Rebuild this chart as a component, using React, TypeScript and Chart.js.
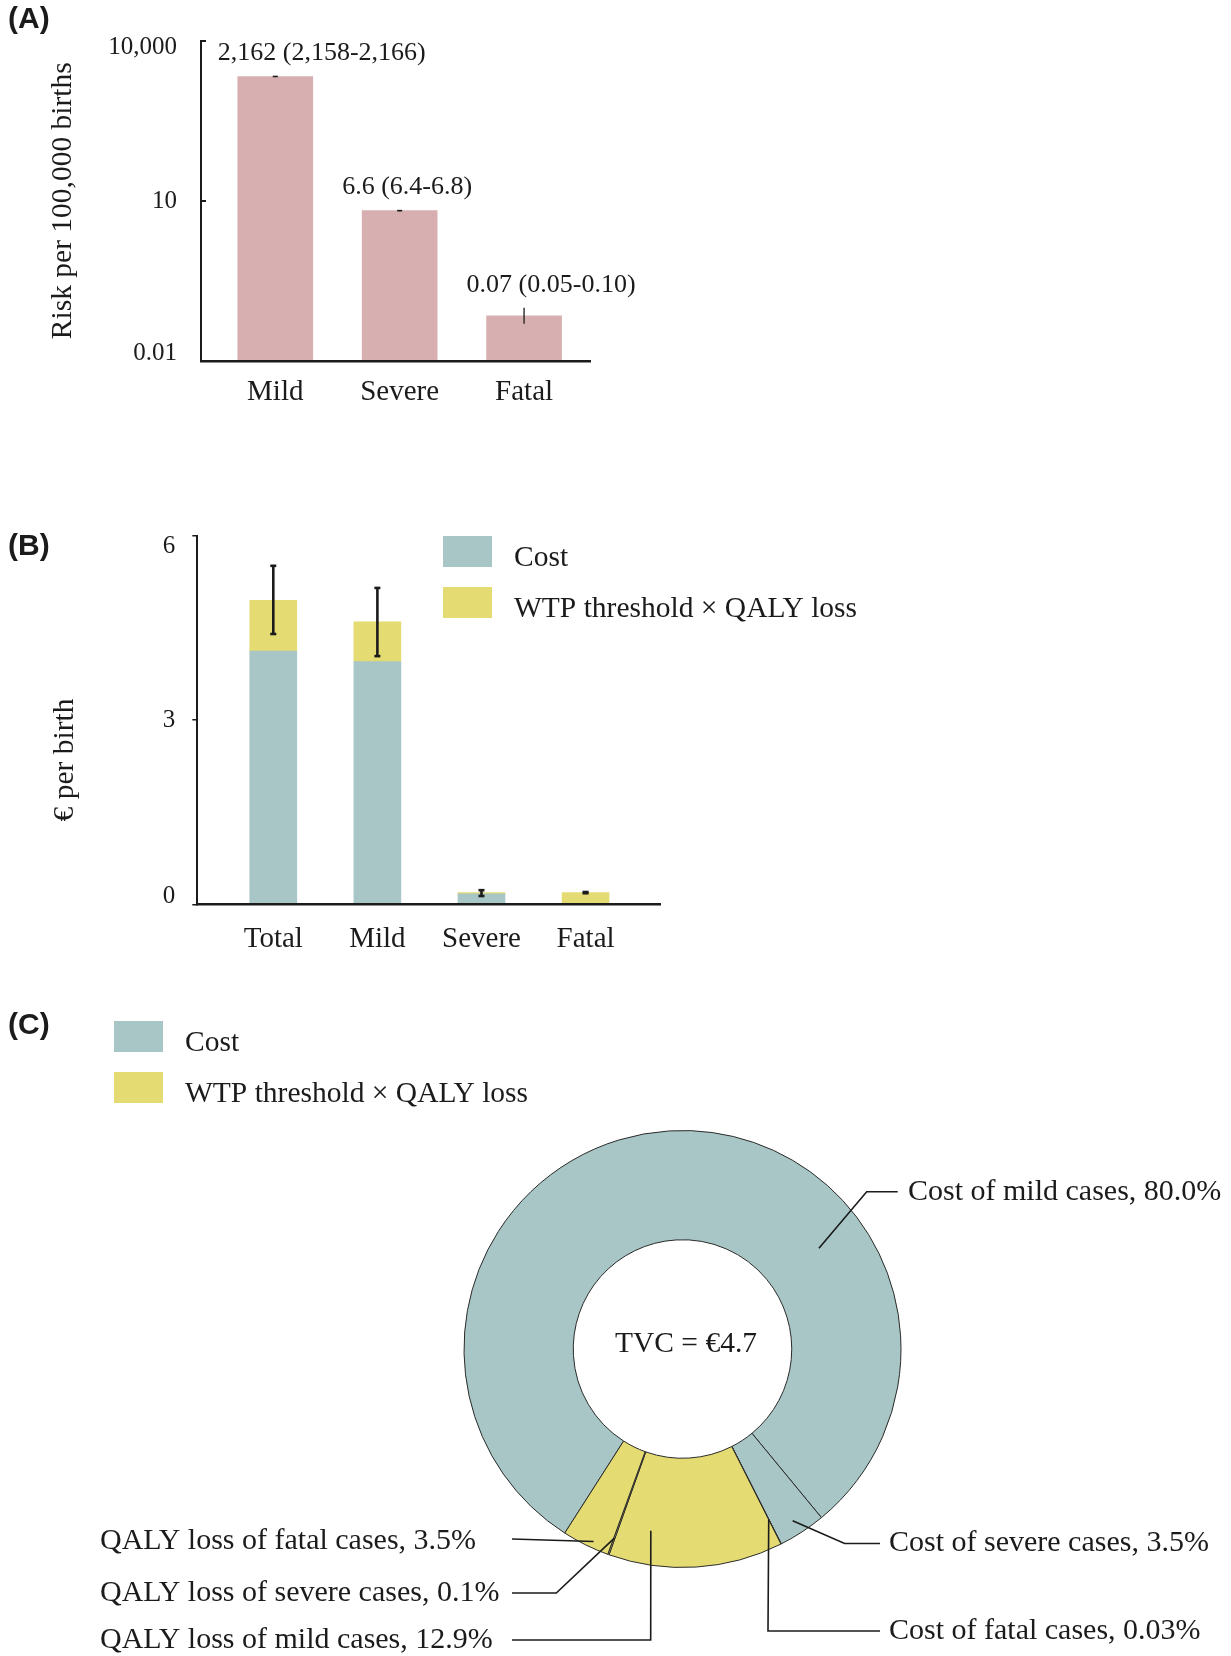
import React, { useEffect, useRef } from "react";
import { Chart, registerables } from "chart.js";

Chart.register(...registerables);

const SERIF = "'Liberation Serif', 'Times New Roman', Times, serif";
const SANS = "'Liberation Sans', Arial, Helvetica, sans-serif";
const INK = "#1b1b1b";
const TEAL = "#A7C6C5";
const YELLOW = "#E4DB73";
const PINK = "#D8AFB0";

// ---------- Panel A data ----------
const riskCategories = ["Mild", "Severe", "Fatal"];
const riskValues = [2162, 6.6, 0.07];
const riskLow = [2158, 6.4, 0.05];
const riskHigh = [2166, 6.8, 0.1];
const riskLabels = ["2,162 (2,158-2,166)", "6.6 (6.4-6.8)", "0.07 (0.05-0.10)"];
const riskTickValues = [0.01, 10, 10000];
const riskTickLabels = ["0.01", "10", "10,000"];
const riskAxisTitle = "Risk per 100,000 births";

// ---------- Panel B data ----------
const costCategories = ["Total", "Mild", "Severe", "Fatal"];
const costValues = [4.12, 3.95, 0.17, 0.005];
const wtpValues = [0.83, 0.65, 0.02, 0.185];
const totalLow = [4.4, 4.04, 0.135, 0.18];
const totalHigh = [5.51, 5.15, 0.23, 0.2];
const costTickValues = [0, 3, 6];
const costAxisTitle = "€ per birth";
const legendLabels = ["Cost", "WTP threshold × QALY loss"];

// ---------- Panel C data ----------
const sliceLabels = [
  "Cost of mild cases",
  "Cost of severe cases",
  "Cost of fatal cases",
  "QALY loss of mild cases",
  "QALY loss of severe cases",
  "QALY loss of fatal cases",
];
const sliceValues = [80.0, 3.5, 0.03, 12.9, 0.1, 3.5];
const sliceValueText = ["80.0", "3.5", "0.03", "12.9", "0.1", "3.5"];
const sliceGroup = [0, 0, 0, 1, 1, 1];
const tvcLabel = "TVC = €4.7";

// ---------- layout ----------
const TOP_B = 500;
const TOP_C = 980;
const GROUP_COLORS = [TEAL, YELLOW];

// leader layout for panel C (page coordinates)
const leaderLayout = [
  { frac: 0.698, r: 169.6, path: [[866.7, 1191.7], [897.7, 1191.7]], text: [908, 1192] },
  { frac: 0.54, r: 204, path: [[844.6, 1543.5], [880, 1543.5]], text: [889, 1543.5] },
  { frac: 0.5, r: 191, path: [[768, 1631], [880, 1631]], text: [889, 1631] },
  { frac: 0.79, r: 184.5, path: [[650.7, 1640], [512, 1640]], text: [100, 1640] },
  { frac: 0.5, r: 201, path: [[556.3, 1593], [512, 1593]], text: [100, 1593] },
  { frac: 0.38, r: 212, path: [[512, 1539]], text: [100, 1541] },
];

function panelLabel(ctx: CanvasRenderingContext2D, text: string, x: number, y: number) {
  ctx.save();
  ctx.font = `bold 30px ${SANS}`;
  ctx.fillStyle = INK;
  ctx.textAlign = "left";
  ctx.textBaseline = "alphabetic";
  ctx.fillText(text, x, y);
  ctx.restore();
}

function verticalTitle(ctx: CanvasRenderingContext2D, text: string, x: number, y: number) {
  ctx.save();
  ctx.translate(x, y);
  ctx.rotate(-Math.PI / 2);
  ctx.font = `29.5px ${SERIF}`;
  ctx.fillStyle = INK;
  ctx.textAlign = "center";
  ctx.textBaseline = "middle";
  ctx.fillText(text, 0, 0);
  ctx.restore();
}

function drawLegend(ctx: CanvasRenderingContext2D, x: number, y: number, gap: number) {
  ctx.save();
  legendLabels.forEach((lab, i) => {
    const top = y + i * gap;
    ctx.fillStyle = GROUP_COLORS[i];
    ctx.fillRect(x, top, 49, 31);
    ctx.fillStyle = INK;
    ctx.font = `29.5px ${SERIF}`;
    ctx.textAlign = "left";
    ctx.textBaseline = "alphabetic";
    ctx.fillText(lab, x + 49 + 22, top + 29.5);
  });
  ctx.restore();
}

// nudge first / last y tick labels inward (as in the reference figure)
function nudgeEndLabels(scale: any, firstShift: number, lastShift: number) {
  const items = scale.getLabelItems();
  if (!items || items.__nudged) return;
  if (items.length) {
    items[0].options.translation[1] += firstShift;
    items[items.length - 1].options.translation[1] += lastShift;
  }
  items.__nudged = true;
}

const panelAPlugin = {
  id: "panelA",
  beforeDraw(chart: any) {
    nudgeEndLabels(chart.scales.y, -7.5, 6);
  },
  afterDatasetsDraw(chart: any) {
    const { ctx, chartArea } = chart;
    const y = chart.scales.y;
    const meta = chart.getDatasetMeta(0);
    ctx.save();
    ctx.strokeStyle = INK;
    ctx.lineWidth = 2;
    riskTickValues.forEach((v) => {
      if (v === y.min) return;
      const py = y.getPixelForValue(v);
      ctx.beginPath();
      ctx.moveTo(chartArea.left, py);
      ctx.lineTo(chartArea.left + 5, py);
      ctx.stroke();
    });
    riskValues.forEach((v, i) => {
      const bar = meta.data[i];
      const px = bar.x;
      const yl = y.getPixelForValue(riskLow[i]);
      const yh = y.getPixelForValue(riskHigh[i]);
      ctx.lineWidth = 1.3;
      ctx.beginPath();
      ctx.moveTo(px, yl);
      ctx.lineTo(px, yh);
      ctx.stroke();
      if (Math.abs(yl - yh) < 3) {
        ctx.lineWidth = 1.6;
        ctx.beginPath();
        ctx.moveTo(px - 2.5, (yl + yh) / 2);
        ctx.lineTo(px + 2.5, (yl + yh) / 2);
        ctx.stroke();
      }
      const top = Math.min(bar.y, yh);
      ctx.fillStyle = INK;
      ctx.font = `26px ${SERIF}`;
      ctx.textAlign = "left";
      ctx.textBaseline = "alphabetic";
      ctx.fillText(riskLabels[i], px - bar.width / 2 - 20, top - 16);
    });
    ctx.restore();
  },
  afterDraw(chart: any) {
    const { ctx } = chart;
    verticalTitle(ctx, riskAxisTitle, 63.3, 200.7);
    panelLabel(ctx, "(A)", 8, 27.5);
  },
};

const panelBPlugin = {
  id: "panelB",
  beforeDraw(chart: any) {
    nudgeEndLabels(chart.scales.y, -8, 11);
  },
  afterDatasetsDraw(chart: any) {
    const { ctx } = chart;
    const x = chart.scales.x;
    const y = chart.scales.y;
    ctx.save();
    ctx.strokeStyle = INK;
    costCategories.forEach((c, i) => {
      const px = x.getPixelForValue(i);
      const yl = y.getPixelForValue(totalLow[i]);
      const yh = y.getPixelForValue(totalHigh[i]);
      ctx.lineWidth = 2.6;
      ctx.beginPath();
      ctx.moveTo(px, yl);
      ctx.lineTo(px, yh);
      ctx.stroke();
      [yl, yh].forEach((yy) => {
        ctx.beginPath();
        ctx.moveTo(px - 3, yy);
        ctx.lineTo(px + 3, yy);
        ctx.stroke();
      });
    });
    ctx.restore();
  },
  afterDraw(chart: any) {
    const { ctx } = chart;
    verticalTitle(ctx, costAxisTitle, 65.5, 760 - TOP_B);
    panelLabel(ctx, "(B)", 8, 555 - TOP_B);
    drawLegend(ctx, 443, 536 - TOP_B, 51);
  },
};

const panelCPlugin = {
  id: "panelC",
  afterDraw(chart: any) {
    const { ctx } = chart;
    const meta = chart.getDatasetMeta(0);
    ctx.save();
    const a0 = meta.data[0];
    ctx.font = `29.5px ${SERIF}`;
    ctx.fillStyle = INK;
    ctx.textAlign = "center";
    ctx.textBaseline = "middle";
    ctx.fillText(tvcLabel, a0.x + 3.5, a0.y - 5);

    leaderLayout.forEach((L, i) => {
      const arc = meta.data[i];
      const ang = arc.startAngle + L.frac * (arc.endAngle - arc.startAngle);
      const ax = arc.x + L.r * Math.cos(ang);
      const ay = arc.y + L.r * Math.sin(ang);
      ctx.strokeStyle = INK;
      ctx.lineWidth = 1.6;
      ctx.beginPath();
      ctx.moveTo(ax, ay);
      L.path.forEach(([px, py]) => ctx.lineTo(px, py - TOP_C));
      ctx.stroke();
      ctx.fillStyle = INK;
      ctx.font = `30px ${SERIF}`;
      ctx.textAlign = "left";
      ctx.textBaseline = "middle";
      ctx.fillText(`${sliceLabels[i]}, ${sliceValueText[i]}%`, L.text[0], L.text[1] - TOP_C);
    });
    ctx.restore();
    panelLabel(ctx, "(C)", 8, 1033.5 - TOP_C);
    drawLegend(ctx, 114, 1021 - TOP_C, 51);
  },
};

function configA(): any {
  return {
    type: "bar",
    data: {
      datasets: [
        {
          label: "Risk",
          data: riskValues.map((v, i) => ({ x: i, y: v })),
          backgroundColor: PINK,
          borderWidth: 0,
          barThickness: 75,
        },
      ],
    },
    options: {
      responsive: false,
      animation: false,
      layout: { padding: { left: 0, top: 41, right: 110, bottom: 0 } },
      plugins: { legend: { display: false }, tooltip: { enabled: false } },
      scales: {
        x: {
          type: "linear",
          offset: false,
          min: -0.597,
          max: 2.53,
          afterBuildTicks: (s: any) => {
            s.ticks = riskCategories.map((_, i) => ({ value: i }));
          },
          afterFit: (s: any) => {
            s.height = 69;
          },
          ticks: {
            callback: (v: any) => riskCategories[v] ?? "",
            font: { family: SERIF, size: 29 },
            color: INK,
            padding: 14,
            autoSkip: false,
            maxRotation: 0,
          },
          grid: { display: false, drawTicks: false, offset: false },
          border: { display: true, color: INK, width: 2.5, z: 1 },
        },
        y: {
          type: "logarithmic",
          min: 0.01,
          max: 10000,
          afterBuildTicks: (s: any) => {
            s.ticks = riskTickValues.map((v) => ({ value: v }));
          },
          afterFit: (s: any) => {
            s.width = 201;
          },
          ticks: {
            callback: (v: any) => {
              const i = riskTickValues.indexOf(v);
              return i >= 0 ? riskTickLabels[i] : "";
            },
            font: { family: SERIF, size: 25 },
            color: INK,
            padding: 24,
            autoSkip: false,
          },
          grid: { display: false, drawTicks: false },
          border: { display: true, color: INK, width: 2, z: 1 },
        },
      },
    },
    plugins: [panelAPlugin],
  };
}

function configB(): any {
  return {
    type: "bar",
    data: {
      datasets: [
        {
          label: legendLabels[0],
          data: costValues.map((v, i) => ({ x: i, y: v })),
          backgroundColor: TEAL,
          borderWidth: 0,
          barThickness: 47,
        },
        {
          label: legendLabels[1],
          data: wtpValues.map((v, i) => ({ x: i, y: v })),
          backgroundColor: YELLOW,
          borderWidth: 0,
          barThickness: 47,
        },
      ],
    },
    options: {
      responsive: false,
      animation: false,
      layout: { padding: { left: 0, top: 35.7, right: 240, bottom: 0 } },
      plugins: { legend: { display: false }, tooltip: { enabled: false } },
      scales: {
        x: {
          type: "linear",
          offset: false,
          stacked: true,
          min: -0.73,
          max: 3.715,
          afterBuildTicks: (s: any) => {
            s.ticks = costCategories.map((_, i) => ({ value: i }));
          },
          afterFit: (s: any) => {
            s.height = 65.7;
          },
          ticks: {
            callback: (v: any) => costCategories[v] ?? "",
            font: { family: SERIF, size: 29 },
            color: INK,
            padding: 18,
            autoSkip: false,
            maxRotation: 0,
          },
          grid: { display: false, drawTicks: false, offset: false },
          border: { display: true, color: INK, width: 2.6, z: 1 },
        },
        y: {
          type: "linear",
          stacked: true,
          min: 0,
          max: 6,
          afterBuildTicks: (s: any) => {
            s.ticks = costTickValues.map((v) => ({ value: v }));
          },
          afterFit: (s: any) => {
            s.width = 197.3;
          },
          ticks: {
            callback: (v: any) => String(v),
            font: { family: SERIF, size: 25 },
            color: INK,
            padding: 17,
            autoSkip: false,
          },
          grid: {
            display: true,
            drawOnChartArea: false,
            drawTicks: true,
            tickLength: 5,
            color: INK,
            lineWidth: 1.5,
          },
          border: { display: true, color: INK, width: 2, z: 1 },
        },
      },
    },
    plugins: [panelBPlugin],
  };
}

function configC(): any {
  return {
    type: "doughnut",
    data: {
      labels: sliceLabels,
      datasets: [
        {
          data: sliceValues,
          backgroundColor: sliceGroup.map((g) => GROUP_COLORS[g]),
          borderColor: "#2a2a2a",
          borderWidth: 1,
          hoverOffset: 0,
        },
      ],
    },
    options: {
      responsive: false,
      animation: false,
      rotation: -147.4,
      cutout: "50%",
      radius: 218.5,
      layout: { padding: { left: 464, right: 1231 - 901, top: 1349 - 218.5 - TOP_C, bottom: 1656 - (1349 + 218.5) } },
      plugins: { legend: { display: false }, tooltip: { enabled: false } },
    },
    plugins: [panelCPlugin],
  };
}

export default function App() {
  const refA = useRef<HTMLCanvasElement>(null);
  const refB = useRef<HTMLCanvasElement>(null);
  const refC = useRef<HTMLCanvasElement>(null);

  useEffect(() => {
    Chart.defaults.font.family = SERIF;
    Chart.defaults.color = INK;
    const a = new Chart(refA.current as HTMLCanvasElement, configA());
    const b = new Chart(refB.current as HTMLCanvasElement, configB());
    const c = new Chart(refC.current as HTMLCanvasElement, configC());
    return () => {
      a.destroy();
      b.destroy();
      c.destroy();
    };
  }, []);

  return (
    <div
      style={{
        position: "absolute",
        left: 0,
        top: 0,
        width: 1231,
        height: 1656,
        background: "#ffffff",
        overflow: "hidden",
      }}
    >
      <canvas ref={refA} width={700} height={430} style={{ position: "absolute", left: 0, top: 0 }} />
      <canvas ref={refB} width={900} height={470} style={{ position: "absolute", left: 0, top: TOP_B }} />
      <canvas ref={refC} width={1231} height={1656 - TOP_C} style={{ position: "absolute", left: 0, top: TOP_C }} />
    </div>
  );
}
